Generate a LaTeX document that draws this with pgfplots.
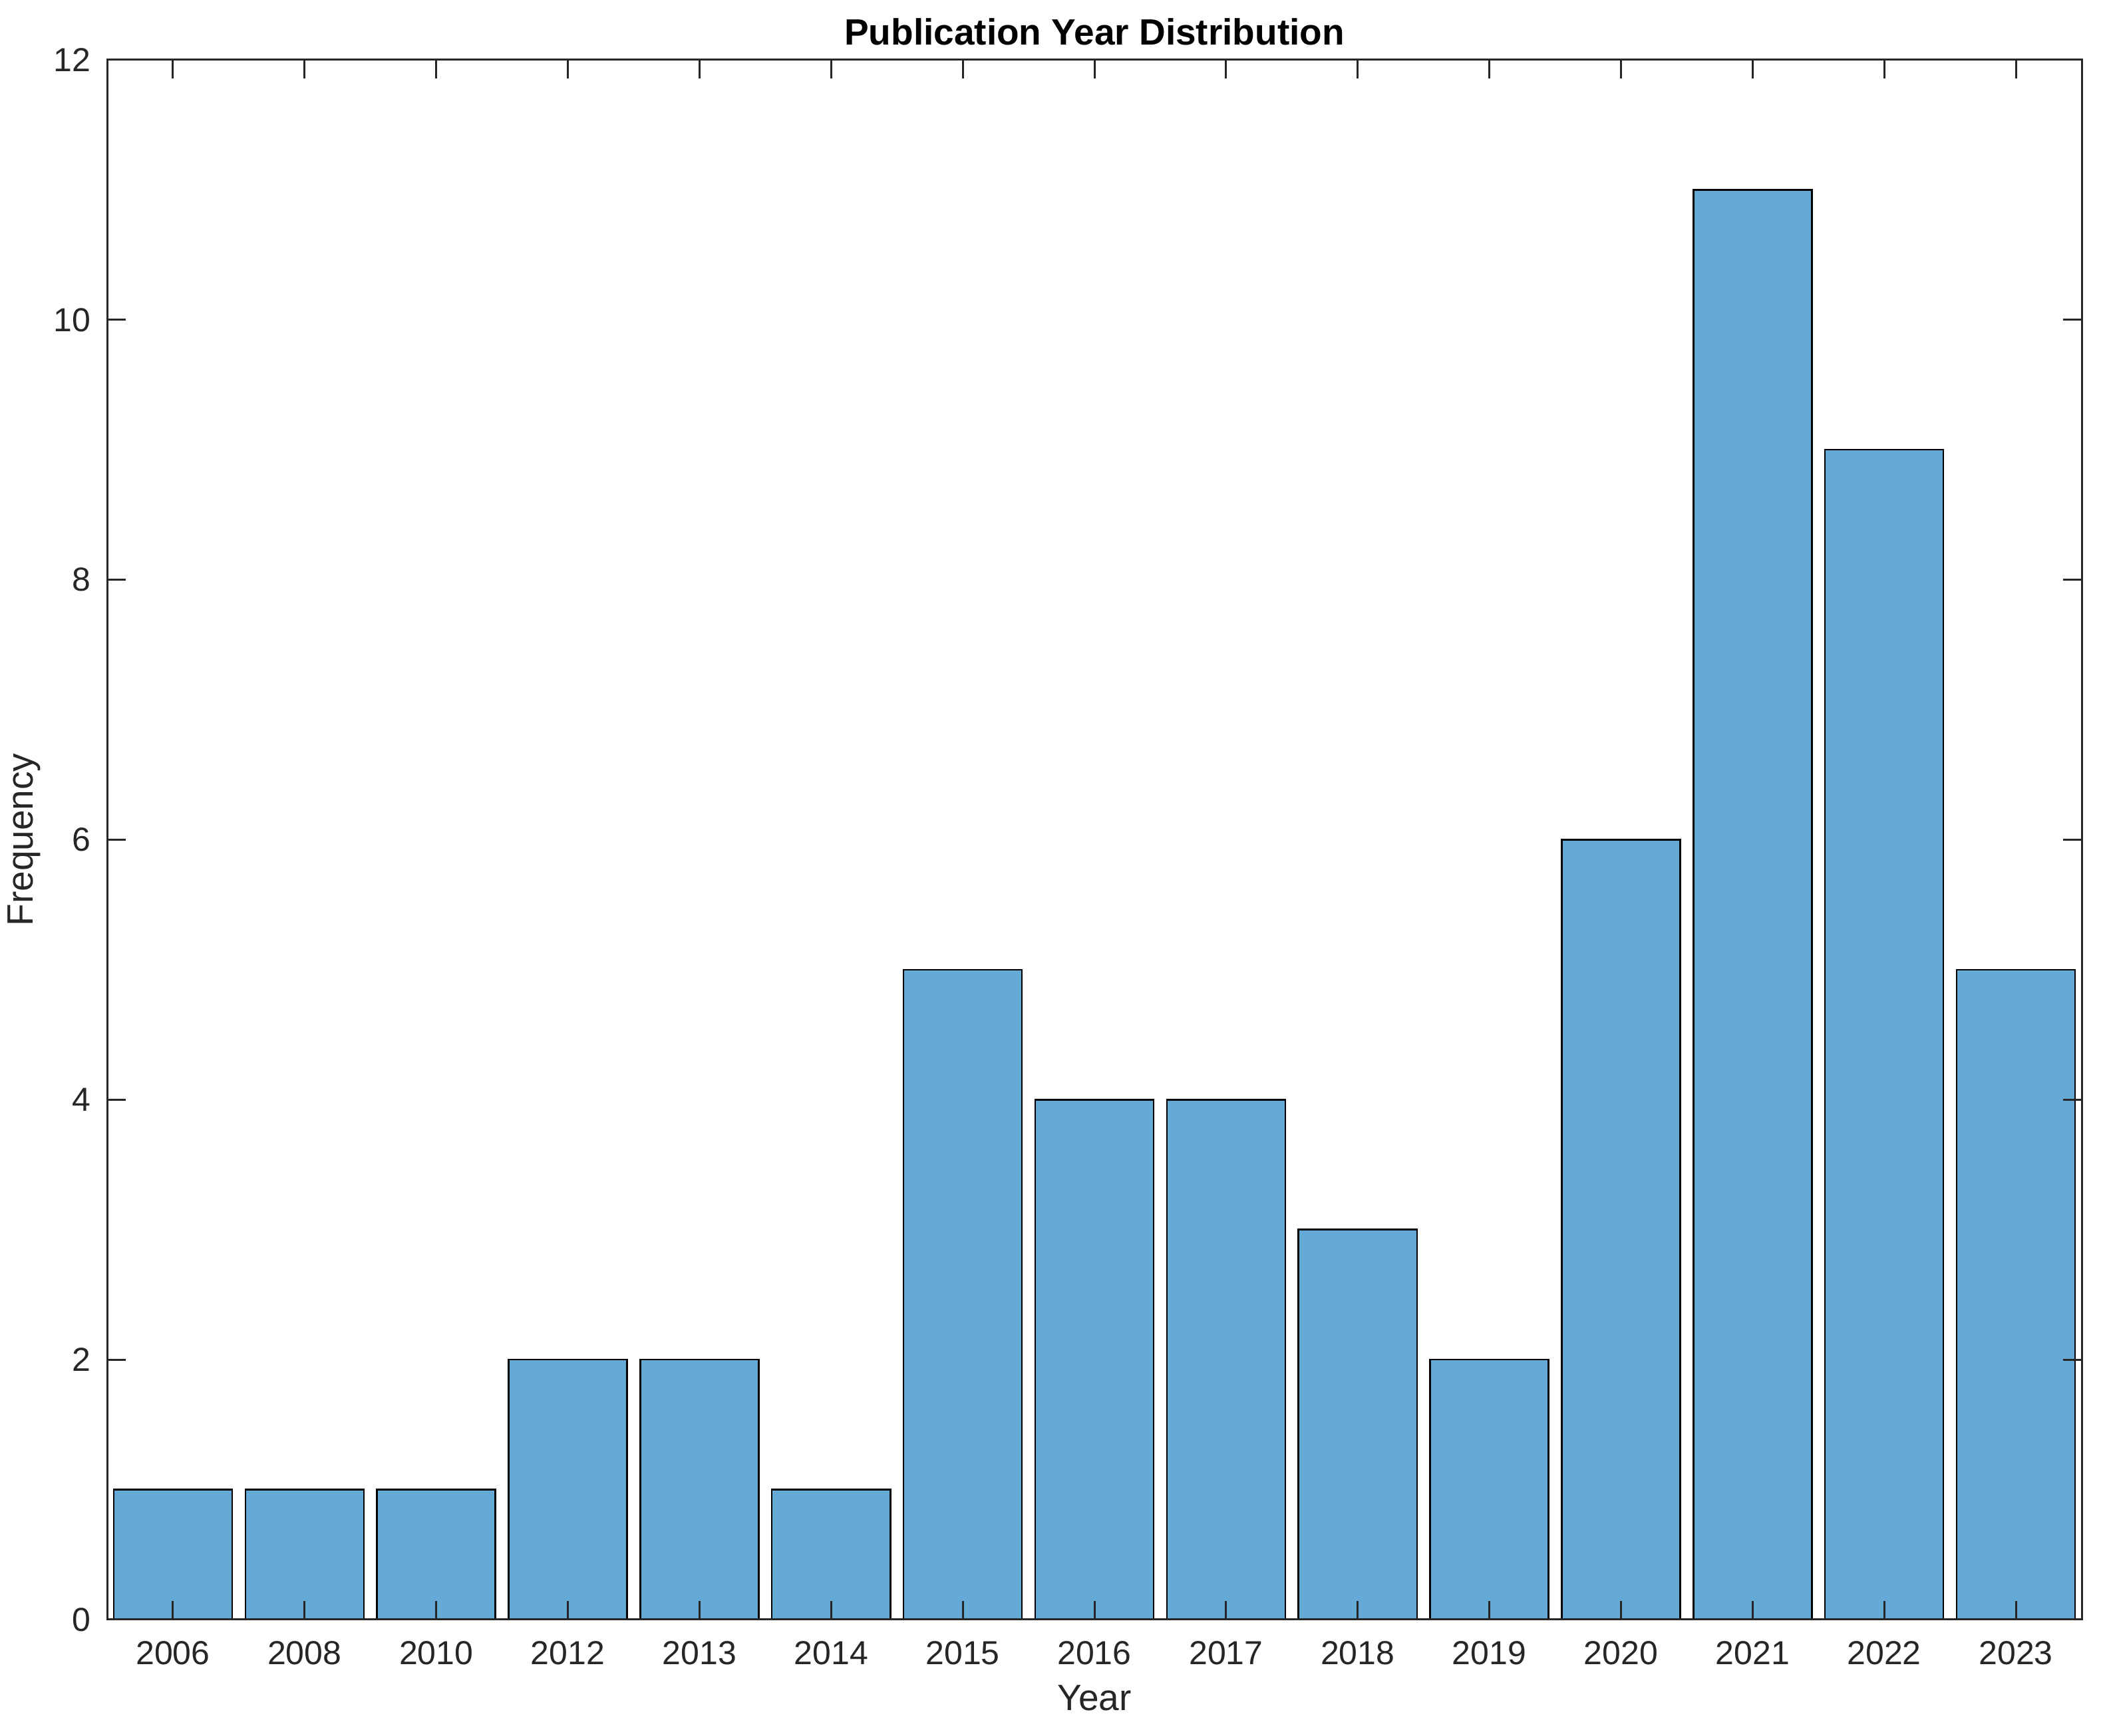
\documentclass[border=0pt]{standalone}
\usepackage{fontspec}
\setmainfont{Liberation Sans}
\usepackage{pgfplots}
\pgfplotsset{compat=1.18}
\definecolor{barblue}{RGB}{101,169,214}
\definecolor{axgray}{rgb}{0.15,0.15,0.15}
\begin{document}
\begin{tikzpicture}
\useasboundingbox (-32.2pt,-35pt) rectangle (600.6pt,487pt);
\begin{axis}[
 ybar, bar width=0.9,
 at={(0,0)}, anchor=south west,
 width=593.6pt, height=469pt, scale only axis,
 xmin=0.5, xmax=15.5, ymin=0, ymax=12,
 xtick={1,...,15},
 xticklabels={2006,2008,2010,2012,2013,2014,2015,2016,2017,2018,2019,2020,2021,2022,2023},
 ytick={0,2,...,12},
 tick align=inside, xtick align=inside, ytick align=inside,
 major tick length=5.6pt,
 axis line style={axgray, line width=0.6pt},
 tick style={axgray, line width=0.6pt},
 ticklabel style={font=\fontsize{10}{12}\selectfont, text=axgray},
 xticklabel style={yshift=-2.9pt},
 yticklabel style={xshift=-1.5pt},
 /pgf/number format/assume math mode=true,
 xlabel={Year}, ylabel={Frequency},
 xlabel style={at={(axis description cs:0.5,-0.0503)}, anchor=center, font=\fontsize{11}{13}\selectfont, text=axgray},
 ylabel style={at={(axis description cs:-0.0421,0.5)}, anchor=center, font=\fontsize{11}{13}\selectfont, text=axgray},
 title={Publication Year Distribution},
 title style={at={(axis description cs:0.5,1.0052)}, anchor=center, font=\bfseries\fontsize{11}{13}\selectfont},
 axis on top,
]
\addplot[fill=barblue, draw=black, line width=0.5pt] coordinates {
(1,1) (2,1) (3,1) (4,2) (5,2) (6,1) (7,5) (8,4) (9,4) (10,3) (11,2) (12,6) (13,11) (14,9) (15,5)
};
\end{axis}
\end{tikzpicture}
\end{document}
